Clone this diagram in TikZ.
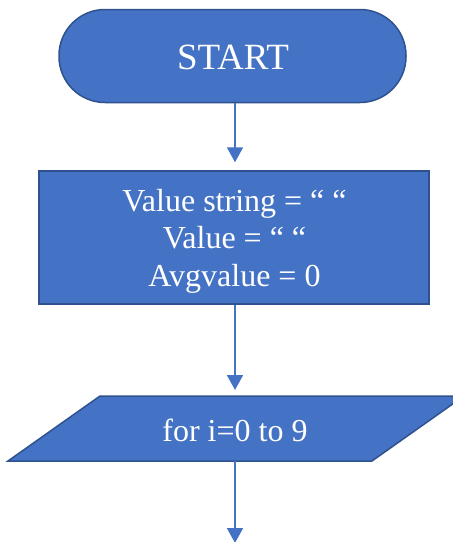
\documentclass[tikz,border=0pt]{standalone}
\usepackage{fontspec}
\setmainfont{Liberation Serif}
\usetikzlibrary{arrows.meta}
\definecolor{fillblue}{HTML}{4472C4}
\definecolor{edgeblue}{HTML}{2F528F}
\begin{document}
\begin{tikzpicture}[x=1pt,y=-1pt,
  box/.style={draw=edgeblue, fill=fillblue, line width=1.5pt, text=white, inner sep=0pt, align=center},
  txt/.style={text=white, align=center, inner sep=0pt},
  flow/.style={draw=fillblue, line width=1.8pt, -{Triangle[width=16pt,length=15pt]}}
]
\useasboundingbox (0,0) rectangle (453,542);
\clip (0,0) rectangle (453,542);

\node[box, minimum width=347pt, minimum height=93pt, rounded corners=46pt] (start) at (232.5,56) {};
\node[txt, font=\fontsize{37}{42}\selectfont] (starttext) at (233,57) {START};

\node[box, minimum width=390pt, minimum height=133pt] (init) at (234,237.5) {};
\node[txt, font=\fontsize{32}{37.5}\selectfont] (inittext) at (234.5,241)
      {Value string = “ “\\ Value = “ “\\ Avgvalue = 0};

\path[draw=edgeblue, fill=fillblue, line width=1.5pt, line join=miter]
  (100,396) -- (464,396) -- (372,461) -- (8,461) -- cycle;
\node[txt, font=\fontsize{32}{37}\selectfont] (loop) at (235,430) {for i=0 to 9};
\coordinate (looptop) at (235,396);
\coordinate (loopbot) at (235,461);
\coordinate (next) at (235,543);

\draw[flow, shorten >=8pt] (start.south -| 235,0) -- (init.north -| 235,0);
\draw[flow, shorten >=6pt] (init.south -| 235,0) -- (looptop);
\draw[flow] (loopbot) -- (next);
\end{tikzpicture}
\end{document}
